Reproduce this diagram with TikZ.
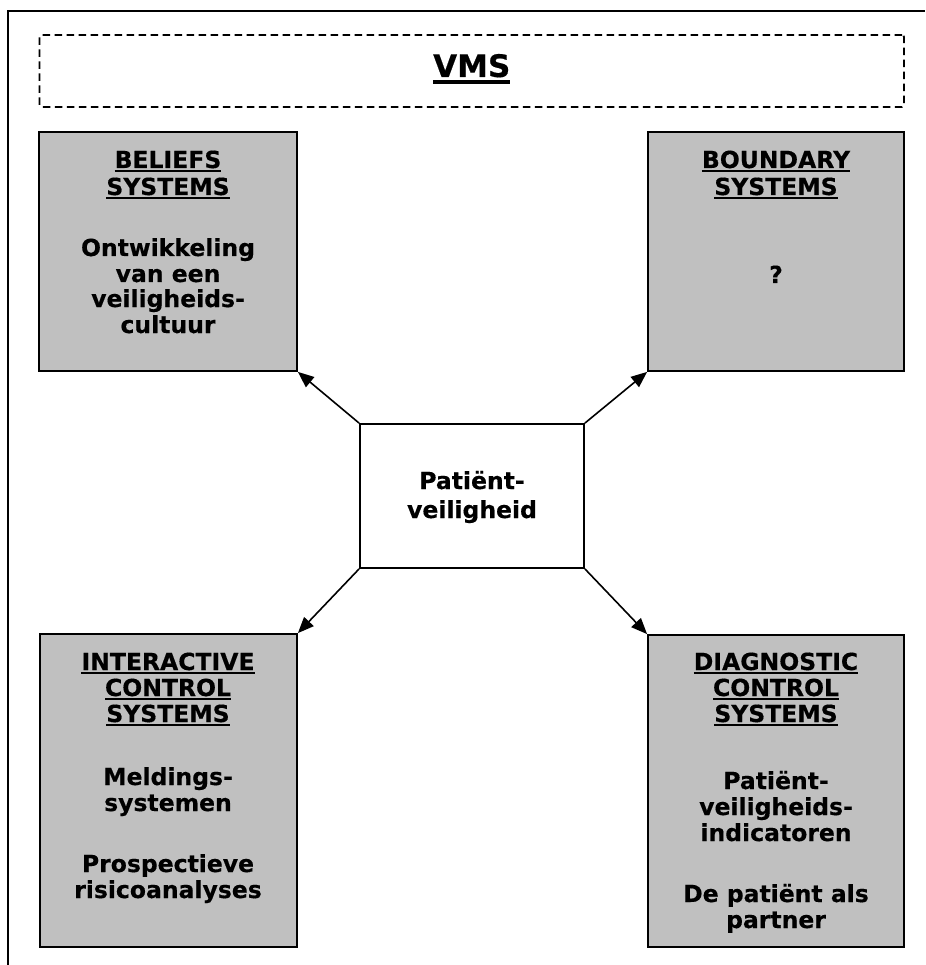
\documentclass[tikz,border=0pt]{standalone}
\usepackage{fontspec}
\setmainfont{DejaVu Sans}
\newfontfamily\panelfont[FakeBold=0.4]{DejaVu Sans}
\newfontfamily\titlefont[FakeBold=0.5]{DejaVu Sans}
\usetikzlibrary{arrows.meta}
\definecolor{panelgray}{HTML}{C0C0C0}
% underlined word with a rule of chosen depth and thickness
\newcommand\ulword[3]{\setbox0\hbox{#3}\rlap{\rule[-#1]{\wd0}{#2}}\box0}
\begin{document}
\begin{tikzpicture}[x=1pt,y=-1pt,
  panel/.style={draw, line width=1.8pt, fill=panelgray, inner sep=0pt},
  txt/.style={font=\panelfont\bfseries\fontsize{23.5}{26}\selectfont, anchor=base, inner sep=0pt},
  arr/.style={line width=1.6pt, -{Triangle[length=16pt,width=13pt]}},
]
\useasboundingbox (0,0) rectangle (925,965);

% outer frame
\draw[line width=2pt] (8,965) -- (8,11) -- (925,11);

% title band
\node[draw, line width=1.8pt, dash pattern=on 7.5pt off 4.5pt, rounded corners=2pt,
      minimum width=864.5pt, minimum height=72pt, inner sep=0pt] (vms) at (471.75,71) {};
\node[font=\titlefont\bfseries\fontsize{31}{36}\selectfont, anchor=base, inner sep=0pt]
      (vmstitle) at (471.75,77) {\ulword{6.6pt}{3.3pt}{VMS}};

% four lever panels
\node[panel, minimum width=258pt, minimum height=239pt] (beliefs) at (168,251.5) {};
\node[panel, minimum width=256pt, minimum height=239pt] (boundary) at (776,251.5) {};
\node[panel, minimum width=257pt, minimum height=313pt] (interactive) at (168.5,790.5) {};
\node[panel, minimum width=256pt, minimum height=312pt] (diagnostic) at (776,791) {};

% central box
\node[draw, line width=1.8pt, fill=white, minimum width=224pt, minimum height=144pt, inner sep=0pt] (core) at (472,496) {};

% beliefs systems
\node[txt] (b1) at (168,168) {\ulword{4.3pt}{2pt}{BELIEFS}};
\node[txt] (b2) at (168,195) {\ulword{4.3pt}{2pt}{SYSTEMS}};
\node[txt] (b3) at (168,256) {Ontwikkeling};
\node[txt] (b4) at (168,282) {van een};
\node[txt] (b5) at (168,307) {veiligheids-};
\node[txt] (b6) at (168,333) {cultuur};

% boundary systems
\node[txt] (u1) at (776,168) {\ulword{4.3pt}{2pt}{BOUNDARY}};
\node[txt] (u2) at (776,195) {\ulword{4.3pt}{2pt}{SYSTEMS}};
\node[txt] (u3) at (776,283) {?};

% interactive control systems
\node[txt] (i1) at (168,670) {\ulword{4.3pt}{2pt}{INTERACTIVE}};
\node[txt] (i2) at (168,696) {\ulword{4.3pt}{2pt}{CONTROL}};
\node[txt] (i3) at (168,722) {\ulword{4.3pt}{2pt}{SYSTEMS}};
\node[txt] (i4) at (168,785) {Meldings-};
\node[txt] (i5) at (168,811) {systemen};
\node[txt] (i6) at (168,872) {Prospectieve};
\node[txt] (i7) at (168,898) {risicoanalyses};

% diagnostic control systems
\node[txt] (d1) at (776,670) {\ulword{4.3pt}{2pt}{DIAGNOSTIC}};
\node[txt] (d2) at (776,696) {\ulword{4.3pt}{2pt}{CONTROL}};
\node[txt] (d3) at (776,722) {\ulword{4.3pt}{2pt}{SYSTEMS}};
\node[txt] (d4) at (776,789) {Patiënt-};
\node[txt] (d5) at (776,815) {veiligheids-};
\node[txt] (d6) at (776,841) {indicatoren};
\node[txt] (d7) at (776,902) {De patiënt als};
\node[txt] (d8) at (776,928) {partner};

% centre label
\node[txt] (c1) at (472,489) {Patiënt-};
\node[txt] (c2) at (472,518) {veiligheid};

% connectors
\draw[arr] (core.north west) -- (beliefs.south east);
\draw[arr] (core.north east) -- (boundary.south west);
\draw[arr] (core.south west) -- (interactive.north east);
\draw[arr] (core.south east) -- (diagnostic.north west);
\end{tikzpicture}
\end{document}
